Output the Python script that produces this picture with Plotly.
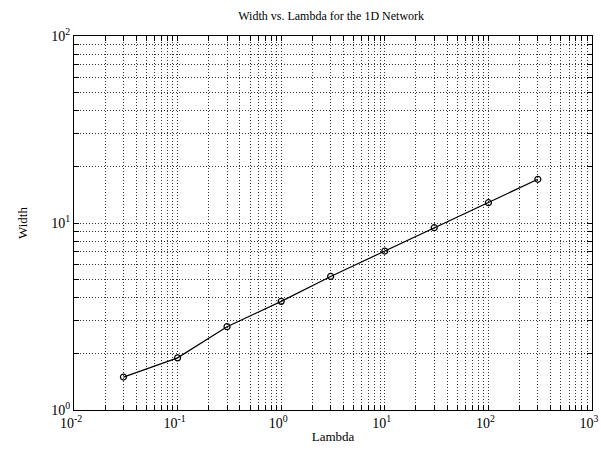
import plotly.graph_objects as go

lam = [0.03, 0.1, 0.3, 1, 3, 10, 30, 100, 300]
width = [1.50, 1.90, 2.79, 3.81, 5.18, 7.08, 9.44, 12.84, 17.13]

x_decades = [-2, -1, 0, 1, 2, 3]
y_decades = [0, 1, 2]


def major_ticks(decades):
    return [10.0 ** d for d in decades], ["10<sup>%d</sup>" % d for d in decades]


def minor_ticks(decades):
    return [m * 10.0 ** d for d in decades[:-1] for m in range(2, 10)]


xv, xt = major_ticks(x_decades)
yv, yt = major_ticks(y_decades)

font = "Liberation Serif, Times New Roman, serif"
grid_dash = "1px,2px"

fig = go.Figure()
fig.add_trace(go.Scatter(
    x=lam, y=width, mode="lines+markers",
    line=dict(color="black", width=1.2),
    marker=dict(symbol="circle-open", size=6, color="black", line=dict(width=1.2)),
    showlegend=False,
))

axis_common = dict(
    type="log", automargin=False,
    showline=True, linecolor="black", linewidth=1.2, mirror="allticks",
    ticks="inside", ticklen=5, tickcolor="black", tickwidth=1,
    showgrid=True, gridcolor="#333333", gridwidth=1, griddash=grid_dash,
    zeroline=False,
    tickfont=dict(family=font, size=14, color="black"),
)

minor_common = dict(tickmode="array", ticks="inside", ticklen=5, tickcolor="black",
                    showgrid=True, gridcolor="#333333", gridwidth=1, griddash=grid_dash)

fig.update_xaxes(
    **axis_common,
    range=[-2, 3], tickmode="array", tickvals=xv, ticktext=xt, ticklabelshift=-3,
    minor=dict(tickvals=minor_ticks(x_decades), **minor_common),
    title=dict(text="Lambda", font=dict(family=font, size=13, color="black"), standoff=1),
)
fig.update_yaxes(
    **axis_common,
    range=[0, 2], tickmode="array", tickvals=yv, ticktext=yt,
    minor=dict(tickvals=minor_ticks(y_decades), **minor_common),
    title=dict(text="Width", font=dict(family=font, size=13, color="black"), standoff=20),
)

fig.update_layout(
    width=601, height=457,
    margin=dict(l=74, r=9, t=36, b=47),
    paper_bgcolor="white", plot_bgcolor="white",
    title=dict(text="Width vs. Lambda for the 1D Network", x=0.551, xanchor="center",
               y=0.965, yanchor="middle", automargin=False,
               font=dict(family=font, size=12, color="black")),
)

fig.write_html(
    "out.html",
    config={"displayModeBar": False},
    post_script="document.body.style.margin='0';document.body.style.overflow='hidden';",
)
